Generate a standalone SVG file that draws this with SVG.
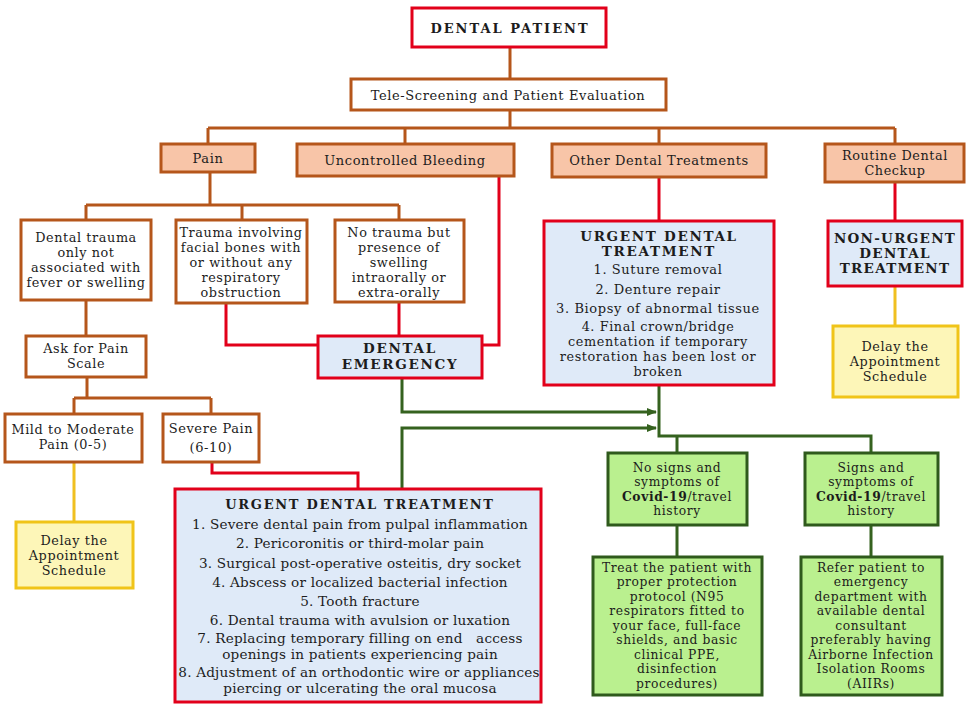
<svg xmlns="http://www.w3.org/2000/svg" width="974" height="708" viewBox="0 0 974 708">
<style>
text{font-family:"DejaVu Serif","Liberation Serif",serif;fill:#1c1c1c;text-anchor:middle;font-size:13px;letter-spacing:0.6px}
.b{font-weight:bold;letter-spacing:1.7px}
.s{font-size:12.8px}
.t{font-size:12.3px}
.m{font-size:13.6px;letter-spacing:0.2px}
.bh{font-size:13.5px}
.red{fill:#ffffff;stroke:#e2001a;stroke-width:3}
.redb{fill:#dfeaf8;stroke:#e2001a;stroke-width:3}
.br{fill:#ffffff;stroke:#b5561b;stroke-width:3}
.pe{fill:#f8c5a8;stroke:#b5561b;stroke-width:3}
.gr{fill:#baf08f;stroke:#2f5a1c;stroke-width:3}
.ye{fill:#fdf6b8;stroke:#f0c419;stroke-width:3}
.cb{fill:none;stroke:#b5561b;stroke-width:3}
.cr{fill:none;stroke:#e2001a;stroke-width:3}
.cy{fill:none;stroke:#f0c020;stroke-width:3}
.cg{fill:none;stroke:#35621f;stroke-width:3}
</style>
<defs>
<marker id="ah" markerWidth="10" markerHeight="8" refX="9" refY="4" orient="auto" markerUnits="userSpaceOnUse">
<path d="M0,0 L10,4 L0,8 Z" fill="#35621f"/>
</marker>
</defs>
<g id="connectors">
<path class="cb" d="M510,48 V79 M510,110 V128 M208,128 H895 M208,128 V144 M405,128 V144 M659,128 V144 M895,128 V144"/>
<path class="cb" d="M210,172 V205 M86,205 H399 M86,205 V220 M242,205 V220 M399,205 V220"/>
<path class="cb" d="M86,300 V336 M87,377 V398 M74,398 H211 M74,398 V414 M211,398 V414"/>
<path class="cr" d="M226,303 V345 H318 M399,302 V336 M499,176 V345 H482 M659,177 V221 M895,182 V221 M212,462 V473 H358 V489"/>
<path class="cy" d="M74,462 V522 M895,286 V326"/>
<path class="cg" d="M402,378 V412 H656" marker-end="url(#ah)"/>
<path class="cg" d="M402,489 V428 H656" marker-end="url(#ah)"/>
<path class="cg" d="M659,385 V436 H871 V453 M677,436 V453 M677,525 V557 M871,525 V557"/>
</g>
<g id="dental-patient">
<rect class="red" x="412" y="8" width="194" height="39"/>
<text class="b" x="510" y="33" font-size="16" style="letter-spacing:2px">DENTAL PATIENT</text>
</g>
<g id="tele-screening">
<rect class="br" x="351" y="79" width="315" height="31"/>
<text x="508" y="99.5">Tele-Screening and Patient Evaluation</text>
</g>
<g id="pain">
<rect class="pe" x="161" y="144" width="94" height="28"/>
<text x="208" y="162.5">Pain</text>
</g>
<g id="uncontrolled-bleeding">
<rect class="pe" x="297" y="144" width="217" height="32"/>
<text x="405" y="165">Uncontrolled Bleeding</text>
</g>
<g id="other-dental">
<rect class="pe" x="552" y="144" width="214" height="33"/>
<text x="659" y="165">Other Dental Treatments</text>
</g>
<g id="routine-checkup">
<rect class="pe" x="825" y="144" width="139" height="38"/>
<text class="s" x="895" y="160">Routine Dental</text>
<text class="s" x="895" y="175">Checkup</text>
</g>
<g id="dental-trauma-only">
<rect class="br" x="21" y="220" width="130" height="80"/>
<text class="s" x="86" y="241.5">Dental trauma</text>
<text class="s" x="86" y="256.5">only not</text>
<text class="s" x="86" y="271.5">associated with</text>
<text class="s" x="86" y="286.5">fever or swelling</text>
</g>
<g id="trauma-facial">
<rect class="br" x="176" y="220" width="131" height="83"/>
<text class="s" x="241" y="236.5">Trauma involving</text>
<text class="s" x="241" y="251.5">facial bones with</text>
<text class="s" x="241" y="266.5">or without any</text>
<text class="s" x="241" y="281.5">respiratory</text>
<text class="s" x="241" y="296.5">obstruction</text>
</g>
<g id="no-trauma">
<rect class="br" x="335" y="220" width="129" height="82"/>
<text class="s" x="399" y="236.5">No trauma but</text>
<text class="s" x="399" y="251.5">presence of</text>
<text class="s" x="399" y="266.5">swelling</text>
<text class="s" x="399" y="281.5">intraorally or</text>
<text class="s" x="399" y="296.5">extra-orally</text>
</g>
<g id="ask-pain-scale">
<rect class="br" x="26" y="336" width="120" height="41"/>
<text class="s" x="86" y="353">Ask for Pain</text>
<text class="s" x="86" y="368">Scale</text>
</g>
<g id="dental-emergency">
<rect class="redb" x="318" y="336" width="164" height="42"/>
<text class="b bh" x="400" y="353">DENTAL</text>
<text class="b bh" x="400" y="369">EMERGENCY</text>
</g>
<g id="mild-moderate">
<rect class="br" x="5" y="414" width="137" height="48"/>
<text class="s" x="73" y="434">Mild to Moderate</text>
<text class="s" x="73" y="449">Pain (0-5)</text>
</g>
<g id="severe-pain">
<rect class="br" x="163" y="414" width="96" height="48"/>
<text x="211" y="432.5">Severe Pain</text>
<text x="211" y="451.5">(6-10)</text>
</g>
<g id="delay-left">
<rect class="ye" x="16" y="522" width="117" height="66"/>
<text class="s" x="74" y="544.5">Delay the</text>
<text class="s" x="74" y="559.5">Appointment</text>
<text class="s" x="74" y="574.5">Schedule</text>
</g>
<g id="urgent-upper">
<rect class="redb" x="544" y="221" width="230" height="164"/>
<text class="b bh" x="659" y="241">URGENT DENTAL</text>
<text class="b bh" x="659" y="256">TREATMENT</text>
<text x="658" y="273.5">1. Suture removal</text>
<text x="658" y="293.5">2. Denture repair</text>
<text x="658" y="312.5">3. Biopsy of abnormal tissue</text>
<text class="s" x="658" y="330.5">4. Final crown/bridge</text>
<text class="s" x="658" y="345.5">cementation if temporary</text>
<text class="s" x="658" y="360.5">restoration has been lost or</text>
<text class="s" x="658" y="375.5">broken</text>
</g>
<g id="non-urgent">
<rect class="redb" x="828" y="221" width="134" height="65"/>
<text class="b bh" x="895" y="243" style="letter-spacing:1.3px">NON-URGENT</text>
<text class="b bh" x="895" y="258" style="letter-spacing:1.3px">DENTAL</text>
<text class="b bh" x="895" y="273" style="letter-spacing:1.3px">TREATMENT</text>
</g>
<g id="delay-right">
<rect class="ye" x="833" y="326" width="125" height="71"/>
<text class="s" x="895" y="350.5">Delay the</text>
<text class="s" x="895" y="365.5">Appointment</text>
<text class="s" x="895" y="380.5">Schedule</text>
</g>
<g id="urgent-lower">
<rect class="redb" x="175" y="489" width="366" height="213"/>
<text class="b" x="360" y="509" font-size="14">URGENT DENTAL TREATMENT</text>
<text class="m" x="360" y="528.5">1. Severe dental pain from pulpal inflammation</text>
<text class="m" x="360" y="547.5">2. Pericoronitis or third-molar pain</text>
<text class="m" x="360" y="567.5">3. Surgical post-operative osteitis, dry socket</text>
<text class="m" x="360" y="586.5">4. Abscess or localized bacterial infection</text>
<text class="m" x="360" y="605.5">5. Tooth fracture</text>
<text class="m" x="360" y="624.5">6. Dental trauma with avulsion or luxation</text>
<text class="m" x="360" y="643" style="white-space:pre">7. Replacing temporary filling on end   access</text>
<text class="m" x="360" y="659">openings in patients experiencing pain</text>
<text class="m" x="359" y="676.5">8. Adjustment of an orthodontic wire or appliances</text>
<text class="m" x="360" y="692.5">piercing or ulcerating the oral mucosa</text>
</g>
<g id="no-signs">
<rect class="gr" x="608" y="453" width="139" height="72"/>
<text class="t" x="677" y="471.5">No signs and</text>
<text class="t" x="677" y="486">symptoms of</text>
<text class="t" x="677" y="500.5"><tspan class="b" style="letter-spacing:0.6px">Covid-19</tspan>/travel</text>
<text class="t" x="677" y="515">history</text>
</g>
<g id="signs">
<rect class="gr" x="805" y="453" width="133" height="72"/>
<text class="t" x="871" y="471.5">Signs and</text>
<text class="t" x="871" y="486">symptoms of</text>
<text class="t" x="871" y="500.5"><tspan class="b" style="letter-spacing:0.6px">Covid-19</tspan>/travel</text>
<text class="t" x="871" y="515">history</text>
</g>
<g id="treat-patient">
<rect class="gr" x="593" y="557" width="169" height="138"/>
<text class="t" x="677" y="571.5">Treat the patient with</text>
<text class="t" x="677" y="586">proper protection</text>
<text class="t" x="677" y="600.5">protocol (N95</text>
<text class="t" x="677" y="615">respirators fitted to</text>
<text class="t" x="677" y="629.5">your face, full-face</text>
<text class="t" x="677" y="644">shields, and basic</text>
<text class="t" x="677" y="658.5">clinical PPE,</text>
<text class="t" x="677" y="673">disinfection</text>
<text class="t" x="677" y="687.5">procedures)</text>
</g>
<g id="refer-patient">
<rect class="gr" x="801" y="557" width="141" height="138"/>
<text class="t" x="871" y="571.5">Refer patient to</text>
<text class="t" x="871" y="586">emergency</text>
<text class="t" x="871" y="600.5">department with</text>
<text class="t" x="871" y="615">available dental</text>
<text class="t" x="871" y="629.5">consultant</text>
<text class="t" x="871" y="644">preferably having</text>
<text class="t" x="871" y="658.5">Airborne Infection</text>
<text class="t" x="871" y="673">Isolation Rooms</text>
<text class="t" x="871" y="687.5">(AIIRs)</text>
</g>
</svg>
